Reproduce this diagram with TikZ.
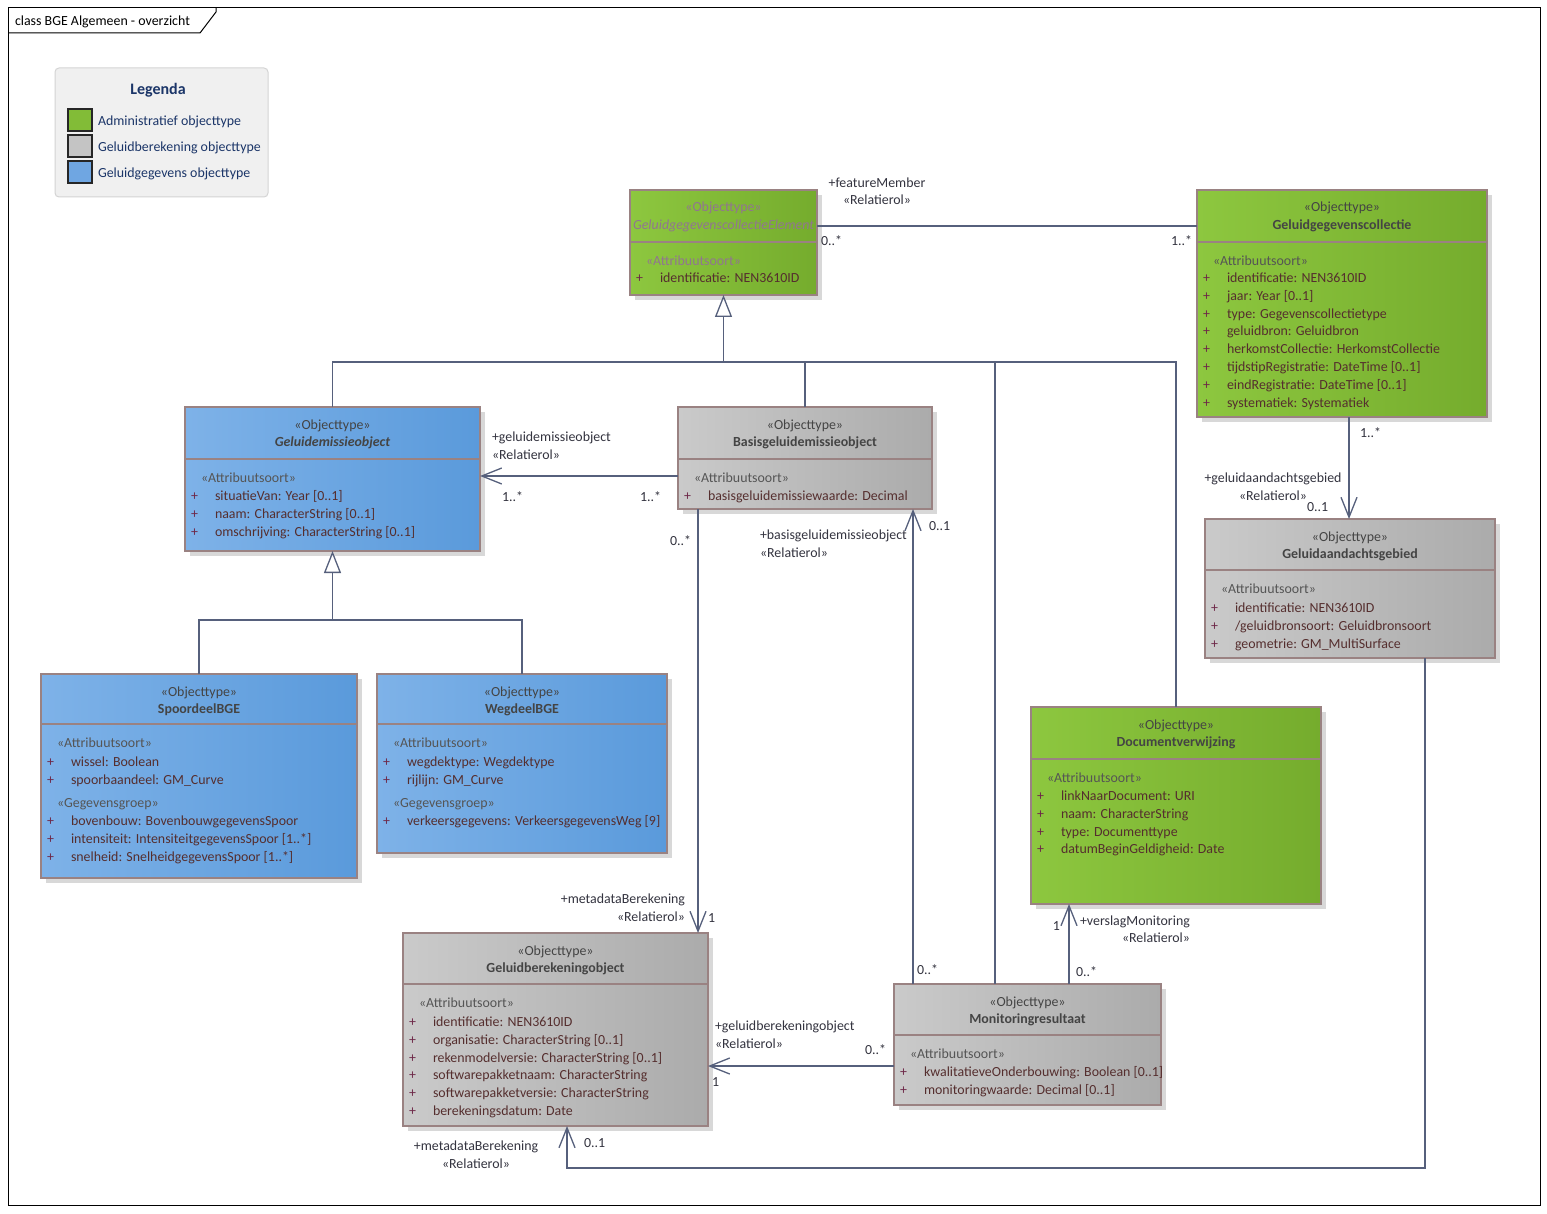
\documentclass[tikz,border=0pt]{standalone}
\usepackage{fontspec}
\setmainfont{Carlito}
\usetikzlibrary{arrows.meta,fit,calc}
\newcommand\dgfs{\fontsize{13.9}{16}\selectfont}
\definecolor{lnc}{HTML}{56607C}
\definecolor{bordc}{HTML}{9A8282}
\definecolor{gL}{HTML}{8DC73F}
\definecolor{gR}{HTML}{75AC2D}
\definecolor{grL}{HTML}{CACACA}
\definecolor{grR}{HTML}{ABABAB}
\definecolor{bL}{HTML}{7EB2E8}
\definecolor{bR}{HTML}{5A9ADB}
\definecolor{stc}{HTML}{555555}
\definecolor{nmc}{HTML}{444444}
\definecolor{atc}{HTML}{552E2E}
\definecolor{plc}{HTML}{6E2848}
\definecolor{lblc}{HTML}{33333F}
\definecolor{abc}{HTML}{917590}
\definecolor{legc}{HTML}{1B3568}
\definecolor{shc}{HTML}{D8D8D8}
\definecolor{legbg}{HTML}{F0F0F0}
\definecolor{legbd}{HTML}{D4D4D4}
\definecolor{swg}{HTML}{82BC37}
\definecolor{swgr}{HTML}{C4C4C4}
\definecolor{swb}{HTML}{6FA6E2}
\tikzset{
  txt/.style={inner sep=0pt, outer sep=0pt, text height=11.5pt, text depth=0.5pt, font=\dgfs},
  lbl/.style={txt, text=lblc},
  conn/.style={draw=lnc, line width=1.3pt},
  openarr/.style={-{Straight Barb[length=20pt,width=16pt]}},
  gentip/.style={-{Triangle[length=22pt,width=17pt,fill=white]}}
}
% #1 name #2 x1 #3 y1 #4 x2 #5 y2 #6 sepy #7 colour prefix #8 border width #9 stereo colour
\newcommand\umlcls[9]{%
  \fill[shc] (#2+5,#3+5) rectangle (#4+5,#5+5);
  \node[fit={(#2,#3)(#4,#5)}, inner sep=0pt, outer sep=0pt, draw=bordc, line width=#8, left color=#7L, right color=#7R] (#1) {};
  \draw[draw=bordc, line width=#8] (#2,#6) -- (#4,#6);
  \node[txt, text=#9, anchor=west] (#1-as) at (#2+16,#6+18) {«Attribuutsoort»};
}
% #1 name #2 colour #3 font #4 text
\newcommand\umlhead[4]{%
  \node[txt, text=#2] (#1-st) at ($(#1.north)+(0,16.5)$) {«Objecttype»};
  \node[txt, text=#2, font=\dgfs#3] (#1-nm) at ($(#1.north)+(0,34)$) {#4};
}
% #1 prefix #2 x1 #3 y0 #4 list
\newcommand\attrs[4]{%
  \foreach \t [count=\i] in {#4} {
    \node[txt, text=plc, anchor=west] (#1-p\i) at (#2+6,{#3+17.8*(\i-1)}) {+};
    \node[txt, text=atc, anchor=west] (#1-a\i) at (#2+30,{#3+17.8*(\i-1)}) {\t};
  }%
}
\begin{document}
\begin{tikzpicture}[x=1pt,y=-1pt]
\useasboundingbox (0,0) rectangle (1547,1214);
\fill[white] (0,0) rectangle (1547,1214);
% frame
\draw[black, line width=1pt] (8,8) rectangle (1540,1205);
\draw[black, line width=1pt] (8,33) -- (200,33) -- (216,12) -- (216,8);
\node[txt, text=black, anchor=west] (title) at (15,20) {class BGE Algemeen - overzicht};
% legend
\node[fit={(55,68)(268,197)}, inner sep=0pt, draw=legbd, fill=legbg, rounded corners=4pt, line width=1pt] (leg) {};
\node[txt, text=legc, font=\fontsize{16}{18}\selectfont\bfseries] (legt) at (158,89) {Legenda};
\node[fit={(68,109)(92,131)}, inner sep=0pt, draw=black!85, line width=1.2pt, fill=swg] (sw1) {};
\node[fit={(68,135)(92,157)}, inner sep=0pt, draw=black!85, line width=1.2pt, fill=swgr] (sw2) {};
\node[fit={(68,161)(92,183)}, inner sep=0pt, draw=black!85, line width=1.2pt, fill=swb] (sw3) {};
\node[txt, text=legc, anchor=west] (lg1) at (98,120) {Administratief objecttype};
\node[txt, text=legc, anchor=west] (lg2) at (98,146) {Geluidberekening objecttype};
\node[txt, text=legc, anchor=west] (lg3) at (98,172) {Geluidgegevens objecttype};

% classes
\umlcls{gce}{630}{190}{817}{295}{242}{g}{1.2pt}{abc}
\umlhead{gce}{abc}{\itshape}{GeluidgegevenscollectieElement}
\attrs{gce}{630}{277}{{identificatie: NEN3610ID}}

\umlcls{gc}{1197}{190}{1487}{417}{242}{g}{1.2pt}{stc}
\umlhead{gc}{nmc}{\bfseries}{Geluidgegevenscollectie}
\attrs{gc}{1197}{277}{{identificatie: NEN3610ID},{jaar: Year [0..1]},{type: Gegevenscollectietype},{geluidbron: Geluidbron},{herkomstCollectie: HerkomstCollectie},{tijdstipRegistratie: DateTime [0..1]},{eindRegistratie: DateTime [0..1]},{systematiek: Systematiek}}

\umlcls{geo}{185}{407}{480}{551}{459}{b}{2.6pt}{stc}
\umlhead{geo}{nmc}{\bfseries\itshape}{Geluidemissieobject}
\attrs{geo}{185}{495}{{situatieVan: Year [0..1]},{naam: CharacterString [0..1]},{omschrijving: CharacterString [0..1]}}

\umlcls{bas}{678}{407}{932}{509}{459}{gr}{1.2pt}{stc}
\umlhead{bas}{nmc}{\bfseries}{Basisgeluidemissieobject}
\attrs{bas}{678}{495}{{basisgeluidemissiewaarde: Decimal}}

\umlcls{gad}{1205}{519}{1495}{658}{570}{gr}{1.2pt}{stc}
\umlhead{gad}{nmc}{\bfseries}{Geluidaandachtsgebied}
\attrs{gad}{1205}{607}{{identificatie: NEN3610ID},{/geluidbronsoort: Geluidbronsoort},{geometrie: GM\_MultiSurface}}

\umlcls{spo}{41}{674}{357}{878}{724}{b}{1.2pt}{stc}
\umlhead{spo}{nmc}{\bfseries}{SpoordeelBGE}
\attrs{spo}{41}{761}{{wissel: Boolean},{spoorbaandeel: GM\_Curve}}
\node[txt, text=stc, anchor=west] (spo-gg) at (57,802) {«Gegevensgroep»};
\attrs{spog}{41}{820}{{bovenbouw: BovenbouwgegevensSpoor},{intensiteit: IntensiteitgegevensSpoor [1..*]},{snelheid: SnelheidgegevensSpoor [1..*]}}

\umlcls{weg}{377}{674}{667}{853}{724}{b}{1.2pt}{stc}
\umlhead{weg}{nmc}{\bfseries}{WegdeelBGE}
\attrs{weg}{377}{761}{{wegdektype: Wegdektype},{rijlijn: GM\_Curve}}
\node[txt, text=stc, anchor=west] (weg-gg) at (393,802) {«Gegevensgroep»};
\attrs{wegg}{377}{820}{{verkeersgegevens: VerkeersgegevensWeg [9]}}

\umlcls{doc}{1031}{707}{1321}{904}{759}{g}{1.2pt}{stc}
\umlhead{doc}{nmc}{\bfseries}{Documentverwijzing}
\attrs{doc}{1031}{795}{{linkNaarDocument: URI},{naam: CharacterString},{type: Documenttype},{datumBeginGeldigheid: Date}}

\umlcls{gbo}{403}{933}{708}{1126}{984}{gr}{1.2pt}{stc}
\umlhead{gbo}{nmc}{\bfseries}{Geluidberekeningobject}
\attrs{gbo}{403}{1021}{{identificatie: NEN3610ID},{organisatie: CharacterString [0..1]},{rekenmodelversie: CharacterString [0..1]},{softwarepakketnaam: CharacterString},{softwarepakketversie: CharacterString},{berekeningsdatum: Date}}

\umlcls{mon}{894}{984}{1161}{1105}{1035}{gr}{1.2pt}{stc}
\umlhead{mon}{nmc}{\bfseries}{Monitoringresultaat}
\attrs{mon}{894}{1071}{{kwalitatieveOnderbouwing: Boolean [0..1]},{monitoringwaarde: Decimal [0..1]}}

% helper coordinates
\coordinate (Y226) at (0,226);
\coordinate (Y476) at (0,476);
\coordinate (Y1066) at (0,1066);
\coordinate (X698) at (698,0);
\coordinate (X913) at (913,0);
\coordinate (X995) at (995,0);
\coordinate (X1069) at (1069,0);
\coordinate (X1349) at (1349,0);
\coordinate (X1425) at (1425,0);
\coordinate (X567) at (567,0);
\coordinate (j1) at (723.5,362);
\coordinate (j2) at (332.5,620);
\coordinate (jb) at (567,1168);

% generalizations
\draw[conn] (geo.north) |- (doc.north |- j1) -- (doc.north);
\draw[conn] (bas.north) -- (bas.north |- j1);
\draw[conn] (mon.north -| X995) -- (X995 |- j1);
\draw[conn, gentip] (j1) -- (gce.south);
\draw[conn] (spo.north) |- (weg.north |- j2) -- (weg.north);
\draw[conn, gentip] (j2) -- (geo.south);

% associations
\draw[conn] (gce.east |- Y226) -- (gc.west |- Y226);
\draw[conn, openarr] (gc.south -| X1349) -- (gad.north -| X1349);
\draw[conn, openarr] (bas.west |- Y476) -- (geo.east |- Y476);
\draw[conn, openarr] (bas.south -| X698) -- (gbo.north -| X698);
\draw[conn, openarr] (mon.north -| X913) -- (bas.south -| X913);
\draw[conn, openarr] (mon.north -| X1069) -- (doc.south -| X1069);
\draw[conn, openarr] (mon.west |- Y1066) -- (gbo.east |- Y1066);
\draw[conn, openarr] (gad.south -| X1425) |- (jb) -- (gbo.south -| X567);

% labels
\node[lbl] (l1a) at (877,182) {+featureMember};
\node[lbl] (l1b) at (877,199) {«Relatierol»};
\node[lbl, anchor=west] (l1c) at (821,240) {0..*};
\node[lbl, anchor=east] (l1d) at (1192,240) {1..*};

\node[lbl, anchor=west] (l2a) at (1360,432) {1..*};
\node[lbl] (l2b) at (1273,477) {+geluidaandachtsgebied};
\node[lbl] (l2c) at (1273,495) {«Relatierol»};
\node[lbl, anchor=west] (l2d) at (1307,506) {0..1};

\node[lbl, anchor=west] (l3a) at (492,436) {+geluidemissieobject};
\node[lbl, anchor=west] (l3b) at (492,454) {«Relatierol»};
\node[lbl, anchor=west] (l3c) at (502,496) {1..*};
\node[lbl, anchor=west] (l3d) at (640,496) {1..*};

\node[lbl, anchor=west] (l4a) at (670,540) {0..*};
\node[lbl, anchor=east] (l4b) at (685,898) {+metadataBerekening};
\node[lbl, anchor=east] (l4c) at (685,916) {«Relatierol»};
\node[lbl, anchor=west] (l4d) at (708,917) {1};

\node[lbl, anchor=west] (l5a) at (929,525) {0..1};
\node[lbl, anchor=west] (l5b) at (760,534) {+basisgeluidemissieobject};
\node[lbl, anchor=west] (l5c) at (760,552) {«Relatierol»};
\node[lbl, anchor=west] (l5d) at (917,969) {0..*};

\node[lbl, anchor=east] (l6a) at (1060,925) {1};
\node[lbl, anchor=west] (l6b) at (1080,920) {+verslagMonitoring};
\node[lbl, anchor=east] (l6c) at (1190,937) {«Relatierol»};
\node[lbl, anchor=west] (l6d) at (1076,971) {0..*};

\node[lbl, anchor=west] (l7a) at (715,1025) {+geluidberekeningobject};
\node[lbl, anchor=west] (l7b) at (715,1043) {«Relatierol»};
\node[lbl, anchor=west] (l7c) at (865,1049) {0..*};
\node[lbl, anchor=west] (l7d) at (712,1081) {1};

\node[lbl] (l8a) at (476,1145) {+metadataBerekening};
\node[lbl] (l8b) at (476,1163) {«Relatierol»};
\node[lbl, anchor=west] (l8c) at (584,1142) {0..1};
\end{tikzpicture}
\end{document}
